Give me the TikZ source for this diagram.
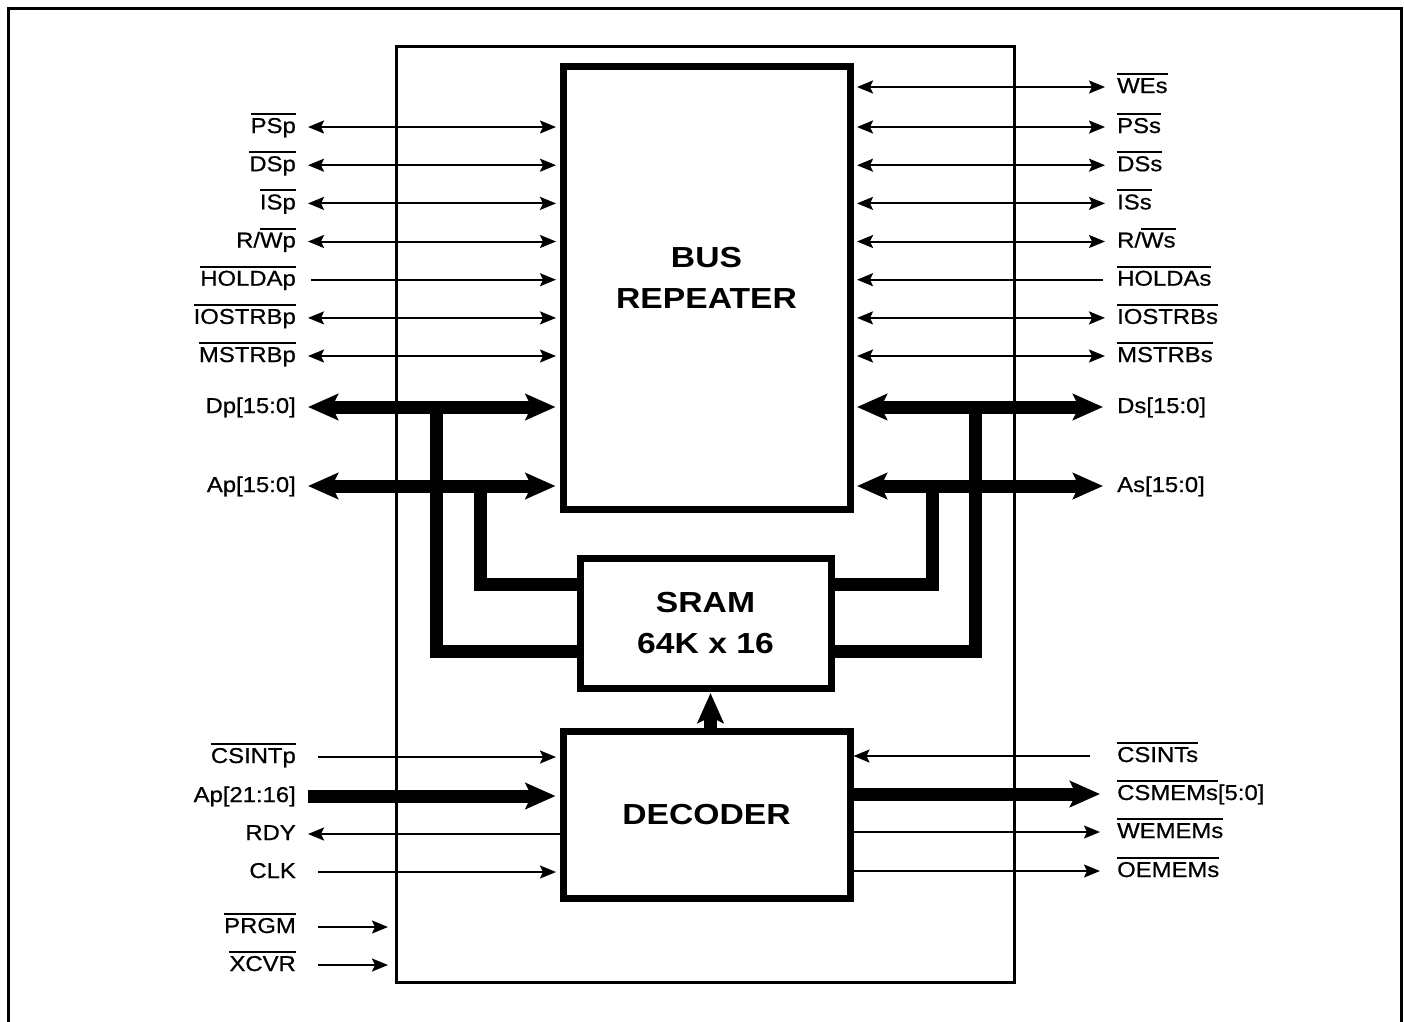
\documentclass[tikz,border=0pt]{standalone}
\usepackage{fontspec}
\setmainfont{Liberation Sans}[FakeStretch=1.11,FakeBold=0.7]
\newfontfamily\blkfont{Liberation Sans}[FakeStretch=1.16]
\usetikzlibrary{arrows.meta,positioning}

\newcommand{\nt}[1]{\vbox{\hrule height 2pt\kern 3pt\hbox{#1}}}

\begin{document}
\begin{tikzpicture}[
        x=1pt, y=-1pt,
    every node/.style={inner sep=0pt},
    blk/.style={draw, line width=7pt, align=center,
        font=\blkfont\bfseries\fontsize{29}{41}\selectfont},
    ttl/.style={align=center, font=\blkfont\bfseries\fontsize{29}{41}\selectfont},
    lab/.style={inner xsep=12pt, text height=16.5pt, text depth=4.5pt,
        font=\fontsize{21.5}{24}\selectfont},
    lft/.style={lab, anchor=east},
    rgt/.style={lab, anchor=west},
    sig/.style={line width=2pt},
    bus/.style={line width=13pt},
    >={Stealth[length=16pt,width=13pt,inset=3pt]},
    BigHead/.tip={Stealth[length=30pt,width=26pt,inset=6pt]}
]
    \useasboundingbox (0,0) rectangle (1404,1021);
    \draw [line width=3pt] (8,1030) |- (1401,8) -- (1401,1030);

    \node [draw, line width=3pt, minimum width=618pt, minimum height=936pt] (chip) at (705,514) {};
    \node [blk, minimum width=287pt, minimum height=443pt,
        label={[ttl, yshift=9.5pt]center:BUS\\REPEATER}] (rep) at (706.5,287.5) {};
    \node [blk, minimum width=251pt, minimum height=130pt] (sram) at (705.5,623) {SRAM\\64K x 16};
    \node [blk, minimum width=287pt, minimum height=167pt] (dec) at (706.5,814.5) {DECODER};

    % primary side
    \node [lft] (psp) at (308,127) {\nt{PSp}};
    \node [lft] (dsp) at (308,165.2) {\nt{DSp}};
    \node [lft] (isp) at (308,203.4) {\nt{ISp}};
    \node [lft] (rwp) at (308,241.5) {R/\nt{Wp}};
    \node [lft] (hldp) at (308,279.7) {\nt{HOLDAp}};
    \node [lft] (iosp) at (308,317.9) {\nt{IOSTRBp}};
    \node [lft] (msp) at (308,356) {\nt{MSTRBp}};
    \node [lft] (dpb) at (308,407) {Dp[15:0]};
    \node [lft] (apb) at (308,486) {Ap[15:0]};
    \node [lft] (csip) at (308,757) {\nt{CSINTp}};
    \node [lft] (apx) at (308,796) {Ap[21:16]};
    \node [lft] (rdy) at (308,834) {RDY};
    \node [lft] (clk) at (308,872) {CLK};
    \node [lft] (prgm) at (308,927) {\nt{PRGM}};
    \node [lft] (xcvr) at (308,965) {\nt{XCVR}};

    % secondary side
    \node [rgt] (wes) at (1105,87) {\nt{WEs}};
    \node [rgt] (pss) at (1105,127) {\nt{PSs}};
    \node [rgt] (dss) at (1105,165.2) {\nt{DSs}};
    \node [rgt] (iss) at (1105,203.4) {\nt{ISs}};
    \node [rgt] (rws) at (1105,241.5) {R/\nt{Ws}};
    \node [rgt] (hlds) at (1105,279.7) {\nt{HOLDAs}};
    \node [rgt] (ioss) at (1105,317.9) {\nt{IOSTRBs}};
    \node [rgt] (mss) at (1105,356) {\nt{MSTRBs}};
    \node [rgt] (dsb) at (1105,407) {Ds[15:0]};
    \node [rgt] (asb) at (1105,486) {As[15:0]};
    \node [rgt] (csis) at (1105,756) {\nt{CSINTs}};
    \node [rgt] (csms) at (1105,794) {\nt{CSMEMs}[5:0]};
    \node [rgt] (wems) at (1105,832) {\nt{WEMEMs}};
    \node [rgt] (oems) at (1105,871) {\nt{OEMEMs}};

    \coordinate (ldj) at (436,0);
    \coordinate (laj) at (480,0);
    \coordinate (raj) at (932,0);
    \coordinate (rdj) at (975,0);

    \draw [sig,<->,shorten >=3.5pt] (psp.east) -- (psp -| rep.west);
    \draw [sig,<->,shorten >=3.5pt] (dsp.east) -- (dsp -| rep.west);
    \draw [sig,<->,shorten >=3.5pt] (isp.east) -- (isp -| rep.west);
    \draw [sig,<->,shorten >=3.5pt] (rwp.east) -- (rwp -| rep.west);
    \draw [sig,->,shorten <=3pt,shorten >=3.5pt] (hldp.east) -- (hldp -| rep.west);
    \draw [sig,<->,shorten >=3.5pt] (iosp.east) -- (iosp -| rep.west);
    \draw [sig,<->,shorten >=3.5pt] (msp.east) -- (msp -| rep.west);

    \draw [sig,<->,shorten <=3.5pt] (rep.east |- wes) -- (wes.west);
    \draw [sig,<->,shorten <=3.5pt] (rep.east |- pss) -- (pss.west);
    \draw [sig,<->,shorten <=3.5pt] (rep.east |- dss) -- (dss.west);
    \draw [sig,<->,shorten <=3.5pt] (rep.east |- iss) -- (iss.west);
    \draw [sig,<->,shorten <=3.5pt] (rep.east |- rws) -- (rws.west);
    \draw [sig,<-,shorten <=3.5pt,shorten >=2pt] (rep.east |- hlds) -- (hlds.west);
    \draw [sig,<->,shorten <=3.5pt] (rep.east |- ioss) -- (ioss.west);
    \draw [sig,<->,shorten <=3.5pt] (rep.east |- mss) -- (mss.west);

    % data and address buses
    \draw [bus] (dpb -| ldj) |- ([yshift=-28pt]sram.west);
    \draw [bus] (apb -| laj) |- ([yshift=39pt]sram.west);
    \draw [bus] (dsb -| rdj) |- ([yshift=-28pt]sram.east);
    \draw [bus] (asb -| raj) |- ([yshift=39pt]sram.east);
    \draw [bus,BigHead-BigHead,shorten >=4pt] (dpb.east) -- (dpb -| rep.west);
    \draw [bus,BigHead-BigHead,shorten >=4pt] (apb.east) -- (apb -| rep.west);
    \draw [bus,BigHead-BigHead,shorten <=3.5pt,shorten >=2pt] (rep.east |- dsb) -- (dsb.west);
    \draw [bus,BigHead-BigHead,shorten <=3.5pt,shorten >=2pt] (rep.east |- asb) -- (asb.west);

    % decoder
    \draw [bus,-BigHead,shorten >=1.5pt] ([xshift=4pt]dec.north) -- ([xshift=4pt]dec.north |- sram.south);
    \draw [sig,->,shorten <=10pt,shorten >=3.5pt] (csip.east) -- (csip -| dec.west);
    \draw [bus,-BigHead,shorten >=4pt] (apx.east) -- (apx -| dec.west);
    \draw [sig,->] (dec.west |- rdy) -- (rdy.east);
    \draw [sig,->,shorten <=10pt,shorten >=3.5pt] (clk.east) -- (clk -| dec.west);
    \draw [sig,->,shorten <=10pt,shorten >=6.5pt] (prgm.east) -- (prgm -| chip.west);
    \draw [sig,->,shorten <=10pt,shorten >=6.5pt] (xcvr.east) -- (xcvr -| chip.west);

    \draw [sig,<-] (dec.east |- csis) -- ([xshift=-15pt]csis.west);
    \draw [bus,-BigHead,shorten >=5pt] (dec.east |- csms) -- (csms.west);
    \draw [sig,->,shorten >=5pt] (dec.east |- wems) -- (wems.west);
    \draw [sig,->,shorten >=5pt] (dec.east |- oems) -- (oems.west);
\end{tikzpicture}
\end{document}
